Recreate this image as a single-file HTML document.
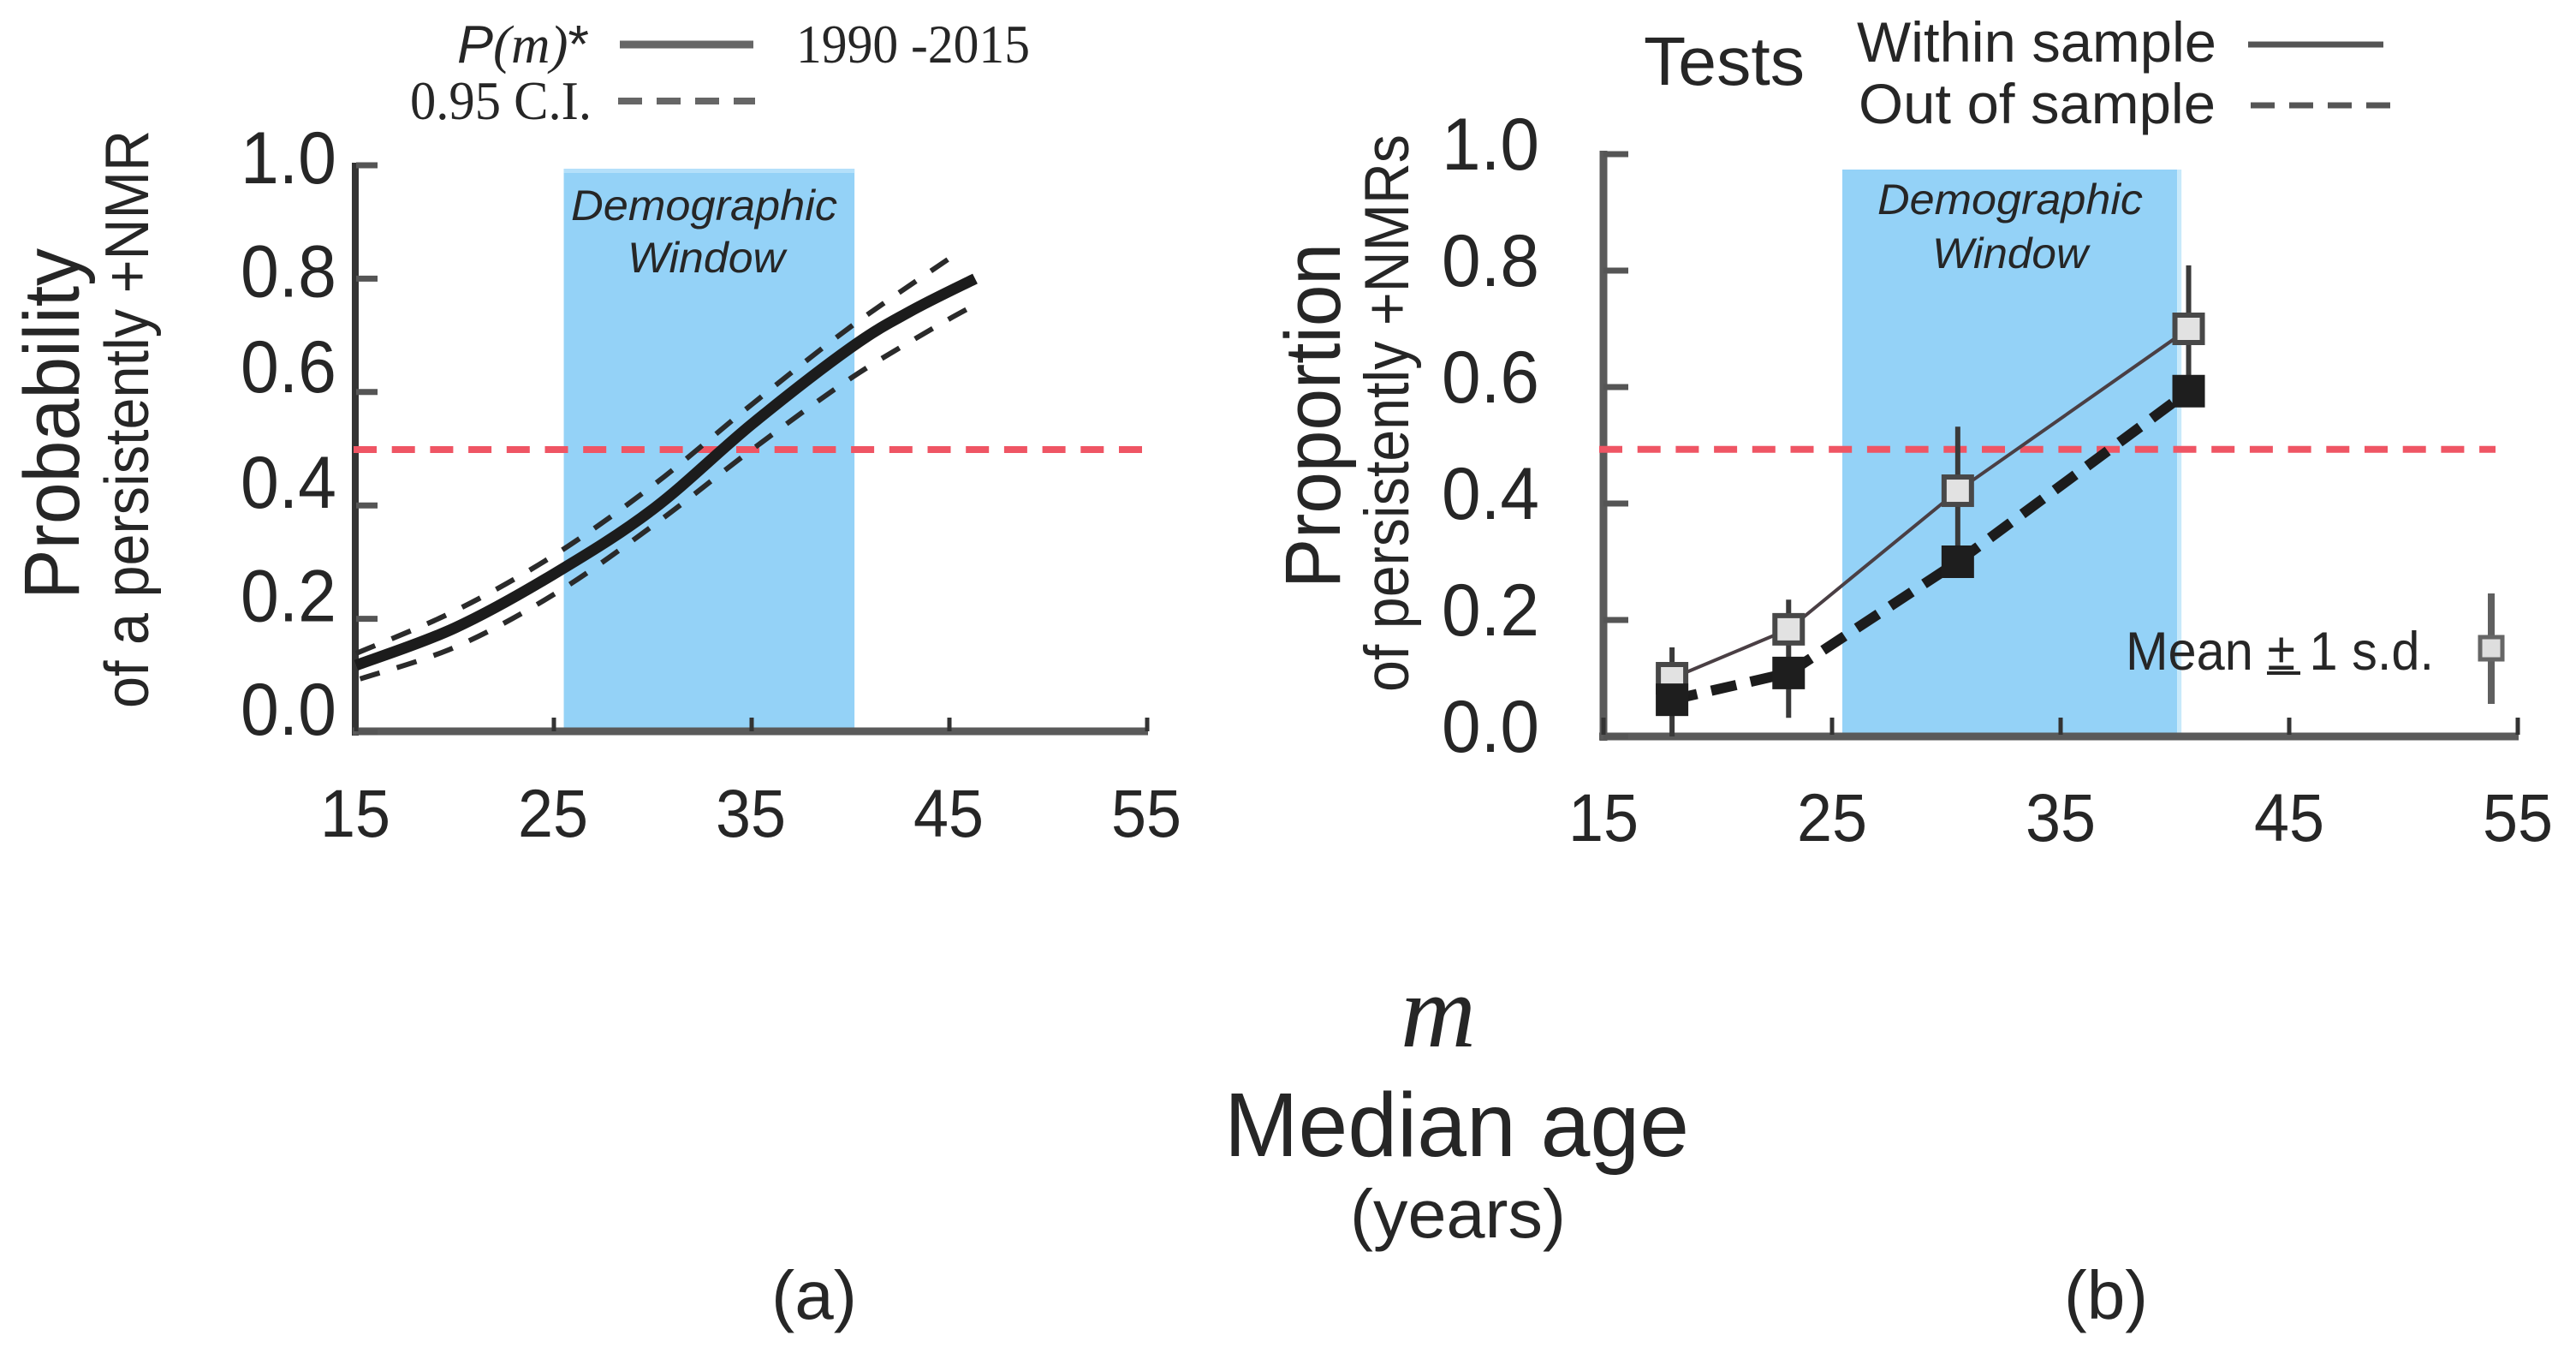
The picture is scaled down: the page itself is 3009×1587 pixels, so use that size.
<!DOCTYPE html>
<html lang="en">
<head>
<meta charset="utf-8">
<title>Probability and proportion of persistently positive NMRs by median age</title>
<style>
html,body{margin:0;padding:0;background:#fff;}
svg{display:block;}
text{font-family:"Liberation Sans",sans-serif;fill:#262626;}
.serif{font-family:"Liberation Serif",serif;}
</style>
</head>
<body>
<svg id="figure" xmlns="http://www.w3.org/2000/svg" width="3009" height="1587" viewBox="0 0 3009 1587">
  <rect x="0" y="0" width="3009" height="1587" fill="#ffffff"/>

  <g id="panelA"></g>
  <g id="panelB"></g>

  <!-- Panel A legend -->
  <g>
    <text x="534" y="73" font-size="62" textLength="154" lengthAdjust="spacingAndGlyphs"><tspan font-style="italic">P</tspan><tspan class="serif" font-style="italic" style="font-family:'Liberation Serif',serif">(m)</tspan>*</text>
    <line x1="724" x2="880" y1="52" y2="52" stroke="#666666" stroke-width="9"/>
    <text class="serif" x="930" y="73" font-size="64" textLength="273" lengthAdjust="spacingAndGlyphs">1990 -2015</text>
    <text class="serif" x="479" y="139" font-size="64" textLength="212" lengthAdjust="spacingAndGlyphs">0.95 C.I.</text>
    <line x1="722" x2="882" y1="118" y2="118" stroke="#666666" stroke-width="8" stroke-dasharray="28 17"/>
  </g>

  <!-- Panel A text -->
  <text transform="translate(92 700) rotate(-90)" font-size="92" textLength="410" lengthAdjust="spacingAndGlyphs">Probability</text>
  <text transform="translate(173 827) rotate(-90)" font-size="72" textLength="675" lengthAdjust="spacingAndGlyphs">of a persistently +NMR</text>
  <text x="667" y="257" font-size="50" font-style="italic" textLength="311" lengthAdjust="spacingAndGlyphs">Demographic</text>
  <text x="733" y="318" font-size="50" font-style="italic" textLength="184" lengthAdjust="spacingAndGlyphs">Window</text>

  <!-- Panel B legend -->
  <g>
    <text x="1920" y="99" font-size="80" textLength="188" lengthAdjust="spacingAndGlyphs">Tests</text>
    <text x="2169" y="72" font-size="66" textLength="420" lengthAdjust="spacingAndGlyphs">Within sample</text>
    <line x1="2626" x2="2784" y1="52" y2="52" stroke="#555555" stroke-width="7"/>
    <text x="2171" y="144" font-size="66" textLength="417" lengthAdjust="spacingAndGlyphs">Out of sample</text>
    <line x1="2629" x2="2793" y1="123" y2="123" stroke="#555555" stroke-width="7" stroke-dasharray="28 17"/>
  </g>

  <!-- Panel B text -->
  <text transform="translate(1565 687) rotate(-90)" font-size="92" textLength="403" lengthAdjust="spacingAndGlyphs">Proportion</text>
  <text transform="translate(1645 808) rotate(-90)" font-size="73" textLength="651" lengthAdjust="spacingAndGlyphs">of persistently +NMRs</text>
  <text x="2193" y="250" font-size="50" font-style="italic" textLength="310" lengthAdjust="spacingAndGlyphs">Demographic</text>
  <text x="2257" y="313" font-size="50" font-style="italic" textLength="182" lengthAdjust="spacingAndGlyphs">Window</text>

  <!-- Mean +/- 1 s.d. key -->
  <g>
    <text x="2483" y="782" font-size="63" textLength="360" lengthAdjust="spacingAndGlyphs">Mean ± 1 s.d.</text>
    <line x1="2648" x2="2687" y1="786" y2="786" stroke="#262626" stroke-width="4"/>
    <line x1="2910" x2="2910" y1="693" y2="822" stroke="#606060" stroke-width="8"/>
    <rect x="2897" y="744" width="26" height="26" fill="#dedede" stroke="#666666" stroke-width="5"/>
  </g>

  <!-- Shared labels -->
  <text class="serif" x="1636" y="1222" font-size="122" font-style="italic" textLength="88" lengthAdjust="spacingAndGlyphs">m</text>
  <text x="1430" y="1350" font-size="106" textLength="543" lengthAdjust="spacingAndGlyphs">Median age</text>
  <text x="1577" y="1445" font-size="80" textLength="252" lengthAdjust="spacingAndGlyphs">(years)</text>
  <text x="901" y="1540" font-size="80" textLength="100" lengthAdjust="spacingAndGlyphs">(a)</text>
  <text x="2411" y="1540" font-size="80" textLength="98" lengthAdjust="spacingAndGlyphs">(b)</text>
</svg>

<script>
// ---- Shared axis data ----
const xTickValues = [15, 25, 35, 45, 55];
const yTickValues = [0, 0.2, 0.4, 0.6, 0.8, 1];
const yTickLabels = ['0.0', '0.2', '0.4', '0.6', '0.8', '1.0'];

// ---- Panel A data ----
const curveAges = [15, 20, 25, 30, 35, 40, 43, 46.3];
const curveProb = [0.118, 0.184, 0.279, 0.393, 0.543, 0.678, 0.742, 0.80];
const upperAges = [15, 20, 25, 30, 35, 40, 45.1];
const upperProb = [0.139, 0.214, 0.312, 0.435, 0.578, 0.715, 0.838];
const lowerAges = [15.2, 20, 25, 30, 35, 40, 44.2, 46.2];
const lowerProb = [0.094, 0.15, 0.243, 0.364, 0.498, 0.624, 0.713, 0.752];
const windowA = [25.5, 40.2];
const thresholdA = [0.4985];

// ---- Panel B data ----
const testAges = [18, 23.1, 30.5, 40.6];
const withinSample = [0.10, 0.184, 0.422, 0.70];
const outOfSample = [0.063, 0.109, 0.30, 0.593];
const errorUpper = [0.153, 0.235, 0.532, 0.809];
const errorLower = [0.0, 0.032, 0.30, 0.593];
const windowB = [25.45, 40.1];
const thresholdB = [0.493];

const SVGNS = 'http://www.w3.org/2000/svg';
function mk(parent, tag, props) {
  const el = document.createElementNS(SVGNS, tag);
  for (const k in props) el.setAttribute(k, props[k]);
  parent.appendChild(el);
  return el;
}
function smoothPath(xs, ys) {
  let d = 'M' + xs[0].toFixed(1) + ' ' + ys[0].toFixed(1);
  for (let i = 0; i < xs.length - 1; i++) {
    const x0 = xs[Math.max(i - 1, 0)], y0 = ys[Math.max(i - 1, 0)];
    const x1 = xs[i], y1 = ys[i], x2 = xs[i + 1], y2 = ys[i + 1];
    const x3 = xs[Math.min(i + 2, xs.length - 1)], y3 = ys[Math.min(i + 2, xs.length - 1)];
    const c1x = x1 + (x2 - x0) / 6, c1y = y1 + (y2 - y0) / 6;
    const c2x = x2 - (x3 - x1) / 6, c2y = y2 - (y3 - y1) / 6;
    d += 'C' + c1x.toFixed(1) + ' ' + c1y.toFixed(1) + ' ' + c2x.toFixed(1) + ' ' + c2y.toFixed(1) + ' ' + x2.toFixed(1) + ' ' + y2.toFixed(1);
  }
  return d;
}

// ---- Axis functions ----
const xA = m => 416 + (m - 15) * 23.1;
const yA = p => 855 - p * 662;
const xB = m => 1873 + (m - 15) * 26.7;
const yB = p => 860 - p * 680;

const gA = document.getElementById('panelA');
const gB = document.getElementById('panelB');

// ---- Panel A ----
(function () {
  const band = mk(gA, 'rect', { x: xA(windowA[0]), y: 197, width: xA(windowA[1]) - xA(windowA[0]), height: 657, fill: '#94d2f7' });
  
  

  const bandTop = mk(gA, 'rect', { x: xA(windowA[0]), y: 197, width: xA(windowA[1]) - xA(windowA[0]), height: 5, fill: '#b4e0fa' });
  
  

  const yAxis = mk(gA, 'line', { x1: 415, x2: 415, y1: 190, y2: 859, stroke: '#333333', 'stroke-width': 8 });
  
  

  const xAxis = mk(gA, 'line', { x1: 412, x2: xA(55) + 1, y1: 854, y2: 854, stroke: '#5a5a5a', 'stroke-width': 9 });
  
  

  yTickValues.forEach((v, i) => {
    const t = mk(gA, 'line', { x1: 416, x2: 441, y1: yA(v), y2: yA(v), stroke: '#555555', 'stroke-width': 7 });
    
    
    const nudge = v >= 0.8 ? 21 : v >= 0.6 ? 0 : 3;
    const lab = mk(gA, 'text', { x: 393, y: yA(v) + nudge, 'font-size': 86, 'text-anchor': 'end', textLength: 112, lengthAdjust: 'spacingAndGlyphs' });
    lab.textContent = yTickLabels[i];
    
    
  });

  xTickValues.forEach(v => {
    const t = mk(gA, 'line', { x1: xA(v), x2: xA(v), y1: 838, y2: 854, stroke: '#333333', 'stroke-width': 5 });
    
    
    const lab = mk(gA, 'text', { x: xA(v) - 1, y: 977, 'font-size': 79, 'text-anchor': 'middle', textLength: 82, lengthAdjust: 'spacingAndGlyphs' });
    lab.textContent = String(v);
    
    
  });

  const red = mk(gA, 'line', { x1: 413, x2: 1335, y1: yA(thresholdA[0]), y2: yA(thresholdA[0]), stroke: '#ef5564', 'stroke-width': 8, 'stroke-dasharray': '27 17.7' });
  
  

  const up = mk(gA, 'path', { d: smoothPath(upperAges.map(xA), upperProb.map(yA)), fill: 'none', stroke: '#2a2a2a', 'stroke-width': 6, 'stroke-dasharray': '24 21' });
  
  

  const lo = mk(gA, 'path', { d: smoothPath(lowerAges.map(xA), lowerProb.map(yA)), fill: 'none', stroke: '#2a2a2a', 'stroke-width': 6, 'stroke-dasharray': '24 21' });
  
  

  const main = mk(gA, 'path', { d: smoothPath(curveAges.map(xA), curveProb.map(yA)), fill: 'none', stroke: '#1c1c1c', 'stroke-width': 13 });
  
  
})();

// ---- Panel B ----
(function () {
  const band = mk(gB, 'rect', { x: xB(windowB[0]), y: 198, width: xB(windowB[1]) - xB(windowB[0]), height: 660, fill: '#94d2f7' });
  
  

  const bandEdge = mk(gB, 'rect', { x: xB(windowB[1]), y: 198, width: 5, height: 660, fill: '#c8e9fa' });
  
  

  const yAxis = mk(gB, 'line', { x1: 1873, x2: 1873, y1: 176, y2: 865, stroke: '#5a5a5a', 'stroke-width': 9 });
  
  

  const xAxis = mk(gB, 'line', { x1: 1868, x2: xB(55) + 1, y1: 860, y2: 860, stroke: '#5a5a5a', 'stroke-width': 9 });
  
  

  yTickValues.forEach((v, i) => {
    const t = mk(gB, 'line', { x1: 1873, x2: 1902, y1: yB(v), y2: yB(v), stroke: '#555555', 'stroke-width': 7 });
    
    
    const lab = mk(gB, 'text', { x: 1798, y: yB(v) + 18, 'font-size': 86, 'text-anchor': 'end', textLength: 114, lengthAdjust: 'spacingAndGlyphs' });
    lab.textContent = yTickLabels[i];
    
    
  });

  xTickValues.forEach(v => {
    const t = mk(gB, 'line', { x1: xB(v), x2: xB(v), y1: 838, y2: 858, stroke: '#333333', 'stroke-width': 5 });
    
    
    const lab = mk(gB, 'text', { x: xB(v), y: 982, 'font-size': 79, 'text-anchor': 'middle', textLength: 82, lengthAdjust: 'spacingAndGlyphs' });
    lab.textContent = String(v);
    
    
  });

  const red = mk(gB, 'line', { x1: 1868, x2: 2915, y1: yB(thresholdB[0]), y2: yB(thresholdB[0]), stroke: '#ef5564', 'stroke-width': 8, 'stroke-dasharray': '27 17.7' });
  
  

  testAges.forEach((m, i) => {
    const bar = mk(gB, 'line', { x1: xB(m), x2: xB(m), y1: yB(errorUpper[i]), y2: yB(errorLower[i]), stroke: '#3a3a3a', 'stroke-width': 6 });
    
    
  });

  const within = mk(gB, 'path', { d: 'M' + testAges.map((m, i) => xB(m) + ' ' + yB(withinSample[i])).join('L'), fill: 'none', stroke: '#4a3f44', 'stroke-width': 4 });
  
  

  const out = mk(gB, 'path', { d: 'M' + testAges.map((m, i) => xB(m) + ' ' + yB(outOfSample[i])).join('L'), fill: 'none', stroke: '#1c1c1c', 'stroke-width': 12, 'stroke-dasharray': '30 17' });
  
  

  testAges.forEach((m, i) => {
    const sq = mk(gB, 'rect', { x: xB(m) - 16, y: yB(withinSample[i]) - 16, width: 32, height: 32, fill: '#e2e2e2', stroke: '#484848', 'stroke-width': 6 });
    
    
  });

  testAges.forEach((m, i) => {
    const sq = mk(gB, 'rect', { x: xB(m) - 19, y: yB(outOfSample[i]) - 19, width: 38, height: 38, fill: '#1e1e1e' });
    
    
  });
})();
</script>
</body>
</html>
